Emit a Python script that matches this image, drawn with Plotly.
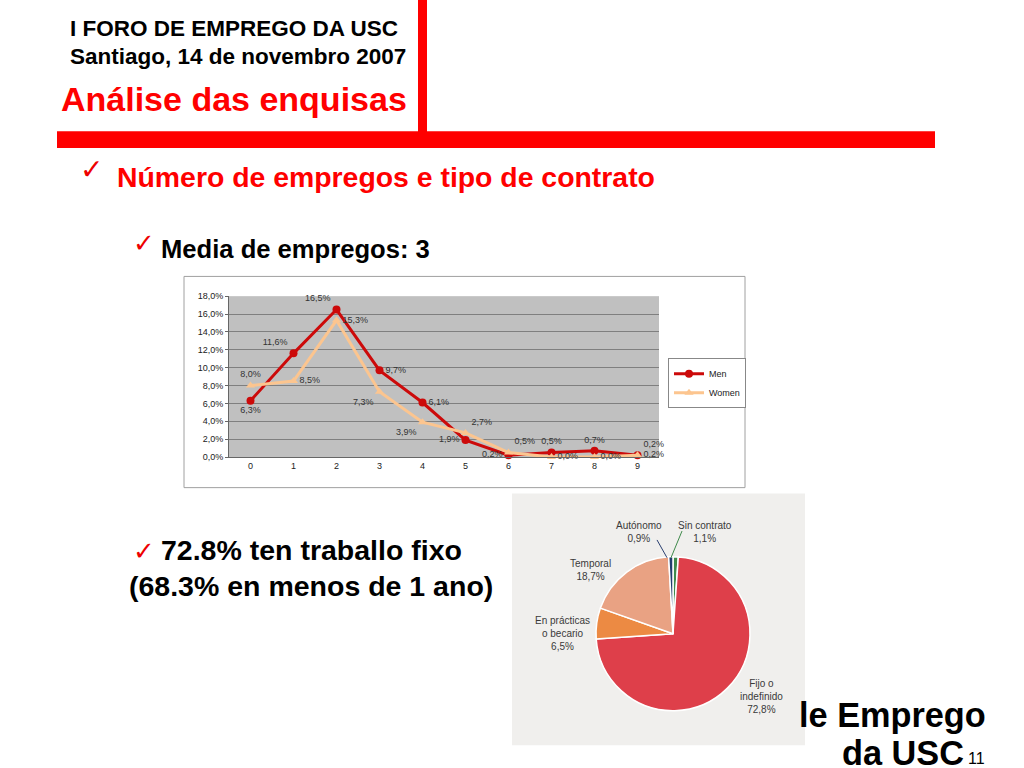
import plotly.graph_objects as go

# ---- data ----
jobs = [0, 1, 2, 3, 4, 5, 6, 7, 8, 9]
men = [6.3, 11.6, 16.5, 9.7, 6.1, 1.9, 0.2, 0.5, 0.7, 0.2]
women = [8.0, 8.5, 15.3, 7.3, 3.9, 2.7, 0.5, 0.0, 0.0, 0.2]
men_pos = ["bottom center", "top left", "top left", "middle right", "middle right",
           "middle left", "middle left", "top center", "top center", "top right"]
women_pos = ["top center", "middle right", "middle right", "bottom left", "bottom left",
             "top right", "top right", "middle right", "middle right", "middle right"]

contract_labels = ["Sin contrato", "Fijo o indefinido", "En prácticas o becario", "Temporal", "Autónomo"]
contract_values = [1.1, 72.8, 6.5, 18.7, 0.9]
contract_colors = ["#3f8a4b", "#de3f4a", "#ec8a43", "#e9a283", "#233d6e"]

W, H = 1024, 768
FONT = "Liberation Sans, Arial, sans-serif"


def px(x):
    return x / W


def py(y):
    return 1 - y / H


def pct(v):
    return f"{v:.1f}".replace(".", ",") + "%"


fig = go.Figure()

fig.add_trace(go.Scatter(
    x=jobs, y=men, name="Men", mode="lines+markers+text",
    line=dict(color="#cc0a0a", width=3),
    marker=dict(symbol="circle", size=8, color="#cc0a0a"),
    text=[pct(v) for v in men], textposition=men_pos,
    textfont=dict(size=9, color="#333333", family=FONT),
    cliponaxis=False,
))
fig.add_trace(go.Scatter(
    x=jobs, y=women, name="Women", mode="lines+markers+text",
    line=dict(color="#fcc58f", width=3),
    marker=dict(symbol="triangle-up", size=8, color="#fcc58f"),
    text=[pct(v) for v in women], textposition=women_pos,
    textfont=dict(size=9, color="#333333", family=FONT),
    cliponaxis=False,
))

fig.add_trace(go.Pie(
    labels=contract_labels, values=contract_values, sort=False,
    direction="clockwise", rotation=0,
    marker=dict(colors=contract_colors, line=dict(color="white", width=1.5)),
    textinfo="none", hoverinfo="label+percent", showlegend=False,
    domain=dict(x=[px(595), px(751)], y=[py(715), py(559)]),
))

fig.update_layout(
    width=W, height=H, margin=dict(l=0, r=0, t=0, b=0),
    paper_bgcolor="white", plot_bgcolor="#c0c0c0",
    separators=",.",
    font=dict(family=FONT, color="#222222"),
    xaxis=dict(domain=[px(229), px(659)], range=[-0.5, 9.5], tickmode="array",
               tickvals=jobs, ticktext=[str(j) for j in jobs], showgrid=False,
               zeroline=False, showline=True, linecolor="#666666",
               tickfont=dict(size=9, color="#222222"), ticks=""),
    yaxis=dict(domain=[py(458), py(295)], range=[0, 18], dtick=2,
               tickformat=".1f", ticksuffix="%", showgrid=True,
               gridcolor="#7f7f7f", gridwidth=1, zeroline=False,
               showline=True, linecolor="#666666", ticks="outside", ticklen=3,
               tickcolor="#666666", tickfont=dict(size=9, color="#222222")),
    legend=dict(x=px(668), y=py(358), xanchor="left", yanchor="top",
                bordercolor="#888888", borderwidth=1, bgcolor="white",
                font=dict(size=9, color="#222222"), itemwidth=30,
                tracegroupgap=0),
    showlegend=True,
)

shapes = []
# red header bars
shapes.append(dict(type="rect", xref="paper", yref="paper", x0=px(418), x1=px(427),
                   y0=py(145), y1=py(-10), fillcolor="#ff0000", line=dict(width=0)))
shapes.append(dict(type="rect", xref="paper", yref="paper", x0=px(57), x1=px(935),
                   y0=py(145), y1=py(128), fillcolor="#ff0000", line=dict(width=0)))
# chart frame
shapes.append(dict(type="rect", xref="paper", yref="paper", x0=px(184), x1=px(745),
                   y0=py(489), y1=py(275), line=dict(color="#a0a0a0", width=1),
                   layer="below"))
# pie picture background
shapes.append(dict(type="rect", xref="paper", yref="paper", x0=px(512), x1=px(805),
                   y0=py(750), y1=py(495), fillcolor="#f0efed", line=dict(width=0),
                   layer="below"))
# leader lines
shapes.append(dict(type="line", xref="paper", yref="paper", x0=px(657), y0=py(542),
                   x1=px(667), y1=py(560), line=dict(color="#2a3f70", width=1)))
shapes.append(dict(type="line", xref="paper", yref="paper", x0=px(682), y0=py(533),
                   x1=px(671), y1=py(560), line=dict(color="#3f8a4b", width=1)))
fig.update_layout(shapes=shapes)

ann = []


def text(x, y, s, size, color="#000000", bold=True, xanchor="left", family=FONT):
    ann.append(dict(x=px(x), y=py(y), xref="paper", yref="paper", text=(f"<b>{s}</b>" if bold else s),
                    showarrow=False, xanchor=xanchor, yanchor="middle",
                    font=dict(size=size, color=color, family=family), align="center"))


text(68, 24, "I FORO DE EMPREGO DA USC", 22.5)
text(68, 52, "Santiago, 14 de novembro 2007", 22.5)
text(59, 95, "Análise das enquisas", 34, color="#ff0000")

text(78, 167, "✓", 28, color="#ee0000", family="DejaVu Sans", bold=False)
text(115, 174, "Número de empregos e tipo de contrato", 28.4, color="#ff0000")
text(131, 241, "✓", 26, color="#ee0000", family="DejaVu Sans", bold=False)
text(159, 247, "Media de empregos: 3", 25.6)
text(131, 553, "✓", 26, color="#ee0000", family="DejaVu Sans", bold=False)
text(159, 552, "72.8% ten traballo fixo", 28.5)
text(127, 589, "(68.3% en menos de 1 ano)", 28.5)

text(797, 719, "le Emprego", 34.3)
text(840, 758, "da USC", 34.3)
text(966, 763, "11", 16, bold=False)

# pie labels
pie_label_pos = {
    "Autónomo": (639, 534, "Autónomo<br>0,9%"),
    "Sin contrato": (705, 534, "Sin contrato<br>1,1%"),
    "Temporal": (590, 572, "Temporal<br>18,7%"),
    "En prácticas o becario": (562, 637, "En prácticas<br>o becario<br>6,5%"),
    "Fijo o indefinido": (761, 701, "Fijo o<br>indefinido<br>72,8%"),
}
for lab, val in zip(contract_labels, contract_values):
    x, y, s = pie_label_pos[lab]
    ann.append(dict(x=px(x), y=py(y), xref="paper", yref="paper", text=s,
                    showarrow=False, xanchor="center", yanchor="middle", align="center",
                    font=dict(size=10, color="#3a3a3a", family=FONT)))

fig.update_layout(annotations=ann)

fig.write_html(
    "out.html",
    config={"displayModeBar": False},
    post_script="document.body.style.margin='0';document.body.style.padding='0';"
                "document.body.style.overflow='hidden';",
)
